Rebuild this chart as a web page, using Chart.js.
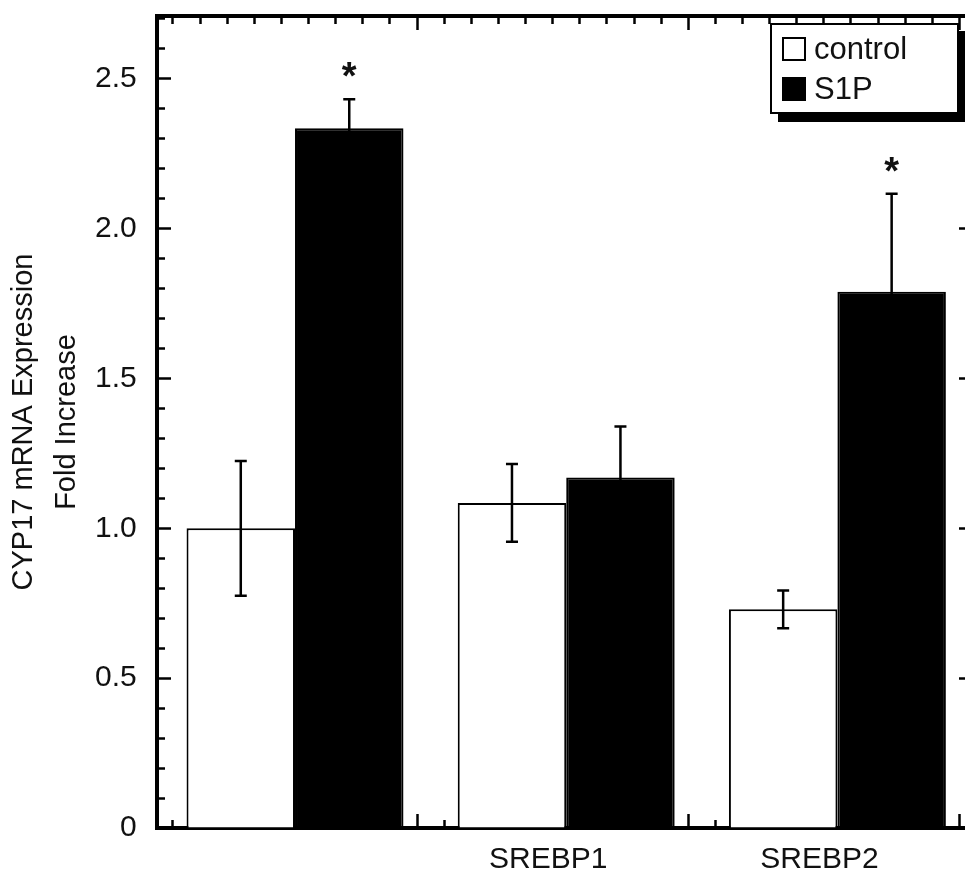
<!DOCTYPE html>
<html>
<head>
<meta charset="utf-8">
<script src="https://cdn.jsdelivr.net/npm/chart.js@4"></script>
<style>
  html, body { margin: 0; background: #fff; overflow: hidden; }
  #wrap { position: relative; width: 965px; height: 875px; overflow: hidden; }
  #chart { position: absolute; left: 0; top: 0; }
  #legend {
    position: absolute; left: 770px; top: 23px; width: 189px; height: 91px;
    box-sizing: border-box; border: 2px solid #000; box-shadow: 8px 8px 0 #000;
    background: #fff; padding: 4px 0 0 10px;
    font-family: "Liberation Sans", Arial, sans-serif; font-size: 31px; color: #111;
  }
  #legend .item { display: flex; align-items: center; height: 40px; }
  #legend .sw { width: 24px; height: 24px; box-sizing: border-box; border: 2px solid #000; margin-right: 8px; }
</style>
</head>
<body>
<div id="wrap">
  <!-- the frame's right edge sits just past the visible page, as in the figure -->
  <canvas id="chart" width="975" height="875"></canvas>
  <div id="legend"></div>
</div>
<script>
// groups along the x axis (first group has no name in the figure)
const categories = ['', 'SREBP1', 'SREBP2'];
const controlValues = [1.00, 1.085, 0.73];
const controlErrors = [0.225, 0.13, 0.063];
const s1pValues = [2.335, 1.17, 1.79];
const s1pErrors = [0.097, 0.17, 0.327];
const s1pMarks = ['*', '', '*'];
const yTickValues = [0, 0.5, 1, 1.5, 2, 2.5];
const yTickText = ['0', '0.5', '1.0', '1.5', '2.0', '2.5'];

const xMin = 0.49, xMax = 3.5, yMax = 2.71;
const FONT = '"Liberation Sans", Arial, sans-serif';

Chart.defaults.font.family = FONT;
Chart.defaults.color = '#111';

function toPoints(values) {
  return values.map((v, i) => ({ x: i + 1, y: v }));
}

const xMajor = v => Math.round(v * 10) % 10 === 5;
const yMajor = v => Math.round(v * 10) % 5 === 0;

// tick-only axes for the box frame, ticks pointing inwards
function frameAxis(axis, position, min, max, tickLength, minorLength, isMajor) {
  return {
    type: 'linear', axis: axis, position: position, min: min, max: max, offset: false,
    ticks: { display: false, stepSize: 0.1, includeBounds: false },
    grid: {
      drawOnChartArea: false, tickLength: tickLength, tickColor: '#000', tickWidth: 2.5,
      tickBorderDash: c => (c.tick && !isMajor(c.tick.value)) ? [minorLength, 100] : []
    },
    border: { color: '#000', width: 4 }
  };
}

const errorBars = {
  id: 'errorBars',
  afterDatasetsDraw(chart) {
    const ctx = chart.ctx;
    const y = chart.scales.y;
    ctx.save();
    ctx.strokeStyle = '#000';
    ctx.lineWidth = 2.5;
    ctx.fillStyle = '#111';
    ctx.font = 'bold 38px ' + FONT;
    ctx.textAlign = 'center';
    ctx.textBaseline = 'alphabetic';
    chart.data.datasets.forEach((ds, d) => {
      chart.getDatasetMeta(d).data.forEach((bar, i) => {
        const v = ds.data[i].y, e = ds.errors[i];
        const top = y.getPixelForValue(v + e), bot = y.getPixelForValue(v - e);
        ctx.beginPath();
        ctx.moveTo(bar.x, top); ctx.lineTo(bar.x, bot);
        ctx.moveTo(bar.x - 6, top); ctx.lineTo(bar.x + 6, top);
        ctx.moveTo(bar.x - 6, bot); ctx.lineTo(bar.x + 6, bot);
        ctx.stroke();
        if (ds.marks && ds.marks[i]) ctx.fillText(ds.marks[i], bar.x, top - 10);
      });
    });
    ctx.restore();
  }
};

const chart = new Chart(document.getElementById('chart'), {
  type: 'bar',
  data: {
    datasets: [
      {
        label: 'control', data: toPoints(controlValues), errors: controlErrors,
        backgroundColor: '#fff', borderColor: '#000', borderWidth: 2
      }, {
        label: 'S1P', data: toPoints(s1pValues), errors: s1pErrors, marks: s1pMarks,
        backgroundColor: '#000', borderColor: '#000', borderWidth: 2
      }
    ]
  },
  options: {
    responsive: false,
    animation: false,
    devicePixelRatio: 1,
    categoryPercentage: 0.8,
    barPercentage: 1.0,
    layout: { padding: { left: 2, top: 16, right: 2, bottom: -3 } },
    plugins: { legend: { display: false }, tooltip: { enabled: false } },
    scales: {
      x: {
        type: 'linear', position: 'bottom', min: xMin, max: xMax, offset: false,
        afterBuildTicks: s => { s.ticks = categories.map((c, i) => ({ value: i + 1 })); },
        ticks: {
          autoSkip: false, maxRotation: 0, minRotation: 0, padding: 0, labelOffset: -18,
          font: { size: 30, lineHeight: 1.2 },
          callback: v => categories[Math.round(v) - 1]
        },
        grid: { offset: false, drawOnChartArea: false, tickLength: 14, tickColor: 'rgba(0,0,0,0)' },
        border: { display: false }
      },
      y: {
        type: 'linear', position: 'left', min: 0, max: yMax,
        ticks: {
          stepSize: 0.5, includeBounds: false, autoSkip: false, padding: 0,
          font: { size: 30, lineHeight: 1 },
          callback: v => { const k = yTickValues.indexOf(v); return k < 0 ? '' : yTickText[k]; }
        },
        grid: { drawOnChartArea: false, tickLength: 20, tickColor: 'rgba(0,0,0,0)' },
        border: { display: false },
        title: {
          display: true, text: ['CYP17 mRNA Expression', 'Fold Increase'],
          font: { size: 29, lineHeight: 1.5 }, padding: { top: 0, bottom: 6 }
        }
      },
      yL: frameAxis('y', { x: xMin }, 0, yMax, -16, 10, yMajor),
      yR: frameAxis('y', { x: xMax }, 0, yMax, 12, 6, yMajor),
      xB: frameAxis('x', { y: 0 }, xMin, xMax, -16, 10, xMajor),
      xT: frameAxis('x', { y: yMax }, xMin, xMax, 12, 6, xMajor)
    }
  },
  plugins: [errorBars]
});

// html legend built from the datasets
document.getElementById('legend').innerHTML = chart.data.datasets.map(ds =>
  '<div class="item"><span class="sw" style="background:' + ds.backgroundColor + '"></span>' + ds.label + '</div>'
).join('');
</script>
</body>
</html>
